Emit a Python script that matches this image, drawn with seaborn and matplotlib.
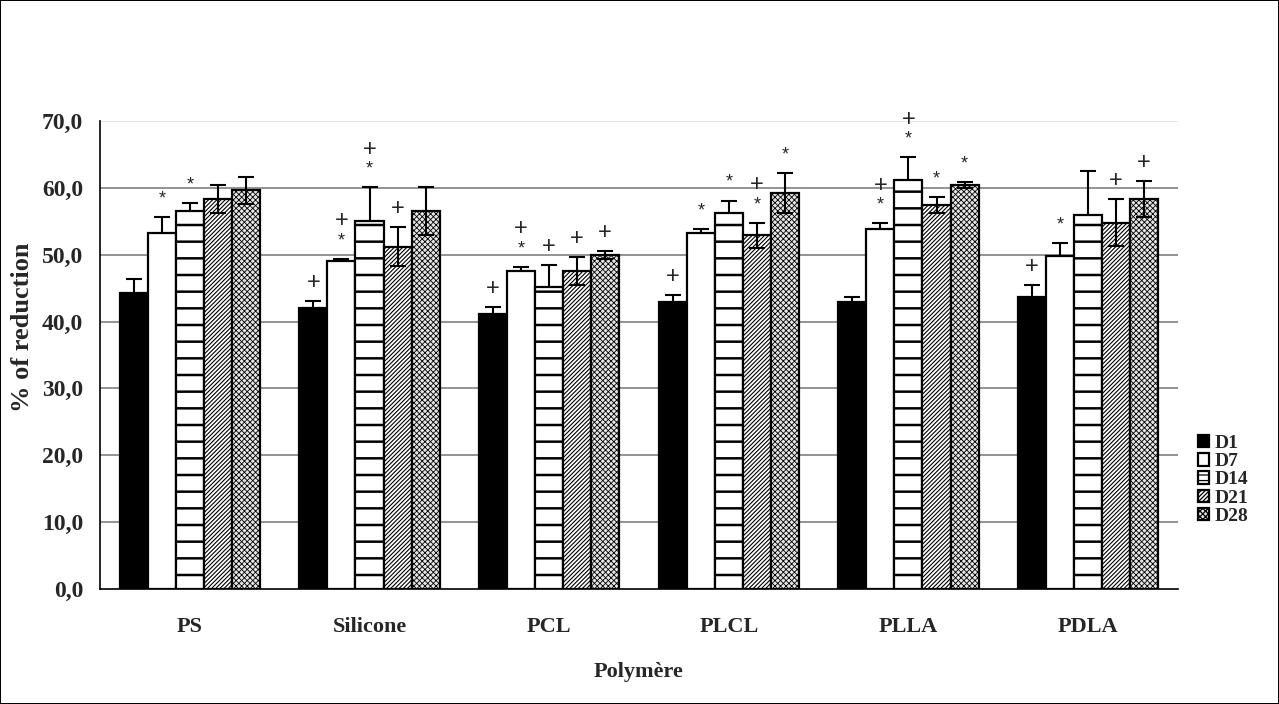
import numpy as np
import pandas as pd
import matplotlib
matplotlib.use("Agg")
import matplotlib.pyplot as plt
import seaborn as sns
from matplotlib.ticker import FuncFormatter

polymers = ["PS", "Silicone", "PCL", "PLCL", "PLLA", "PDLA"]
days = ["D1", "D7", "D14", "D21", "D28"]

d1 = [44.3, 42.0, 41.1, 42.9, 42.9, 43.7]
d7 = [53.3, 49.1, 47.6, 53.3, 53.9, 49.8]
d14 = [56.6, 55.1, 45.2, 56.3, 61.1, 55.9]
d21 = [58.3, 51.2, 47.6, 52.9, 57.4, 54.8]
d28 = [59.6, 56.5, 49.9, 59.2, 60.4, 58.3]

err_d1 = [2.0, 1.1, 1.1, 1.1, 0.7, 1.8]
err_d7 = [2.4, 0.3, 0.6, 0.5, 0.8, 1.9]
err_d14 = [1.1, 5.0, 3.3, 1.8, 3.5, 6.6]
err_d21 = [2.1, 2.9, 2.1, 1.9, 1.2, 3.5]
err_d28 = [2.0, 3.6, 0.6, 3.0, 0.5, 2.7]

# significance marks, bottom to top
marks_d1 = ["", "+", "+", "+", "", "+"]
marks_d7 = ["*", "*+", "*+", "*", "*+", "*"]
marks_d14 = ["*", "*+", "+", "*", "*+", ""]
marks_d21 = ["", "+", "+", "*+", "*", "+"]
marks_d28 = ["", "", "+", "*", "*", "+"]

values = [d1, d7, d14, d21, d28]
errors = [err_d1, err_d7, err_d14, err_d21, err_d28]
marks = [marks_d1, marks_d7, marks_d14, marks_d21, marks_d28]

df = pd.DataFrame({
    "Polymère": polymers * len(days),
    "day": np.repeat(days, len(polymers)),
    "value": np.concatenate(values),
})

sns.set_style("white")
plt.rcParams["font.family"] = ["Liberation Serif", "DejaVu Serif"]
plt.rcParams["font.weight"] = "bold"
plt.rcParams["hatch.linewidth"] = 0.9

fig = plt.figure(figsize=(12.79, 7.04), dpi=100, linewidth=1.2, edgecolor="black")
ax = fig.add_axes([0.0782, 0.1634, 0.8428, 0.6648])

palette = ["black", "white", "white", "white", "#e6e6e6"]
hatches = ["", "", "-", "////////", "xxxxxx"]
hatch_lw = [1.0, 1.0, 1.8, 0.8, 0.6]

sns.barplot(data=df, x="Polymère", y="value", hue="day", order=polymers,
            hue_order=days, palette=palette, saturation=1, width=0.78,
            edgecolor="black", linewidth=1.6, errorbar=None, ax=ax, zorder=3)

bar_conts = list(ax.containers)
for i, cont in enumerate(bar_conts):
    for j, bar in enumerate(cont.patches):
        bar.set_hatch(hatches[i])
        if hasattr(bar, "set_hatch_linewidth"):
            bar.set_hatch_linewidth(hatch_lw[i])
        x = bar.get_x() + bar.get_width() / 2
        h = bar.get_height()
        e = errors[i][j]
        z = 2 if i < 3 else 4
        ax.errorbar(x, h, yerr=e, fmt="none", ecolor="black", elinewidth=1.5,
                    capsize=5.5, capthick=1.5, zorder=z)
        off = 13
        for ch in marks[i][j]:
            ax.annotate(ch, xy=(x, h + e), xytext=(0, off), textcoords="offset points",
                        ha="center", va="center",
                        fontsize=17 if ch == "+" else 13,
                        fontweight="normal", family="Liberation Sans", zorder=5)
            off += 14

ax.set_ylim(0, 70)
ax.set_xlim(-0.5, 5.5)
ax.set_yticks(np.arange(0, 71, 10))
ax.yaxis.set_major_formatter(FuncFormatter(lambda v, p: f"{v:.1f}".replace(".", ",")))
ax.set_xticks(range(len(polymers)))
ax.set_xticks(np.arange(-0.5, 6, 1), minor=True)
ax.tick_params(axis="x", which="major", length=0, labelsize=16, pad=20)
ax.tick_params(axis="x", which="minor", length=5.5, width=1, color="black", direction="out")
ax.tick_params(axis="y", length=6, width=1, color="black", direction="out", labelsize=17, pad=6)

for yv in range(10, 71, 10):
    ax.axhline(yv, color="#e4e4e4" if yv == 70 else "#808080", linewidth=1.2, zorder=1)

for s in ["top", "right"]:
    ax.spines[s].set_visible(False)
for s in ["left", "bottom"]:
    ax.spines[s].set_color("black")
    ax.spines[s].set_linewidth(1.2)

ax.set_xlabel("Polymère", fontsize=16, fontweight="bold", labelpad=18)
ax.set_ylabel("% of reduction", fontsize=19, fontweight="bold")
ax.yaxis.set_label_coords(-0.061, 0.56)

handles, labels = ax.get_legend_handles_labels()
legend_hatches = ["", "", "---", "////////", "xxxxxx"]
for hnd, ht in zip(handles, legend_hatches):
    hnd.set_hatch(ht)
ax.legend(handles, labels, loc="center left", bbox_to_anchor=(1.011, 0.233),
          borderaxespad=0, frameon=False, handlelength=0.6, handleheight=0.6,
          handletextpad=0.3, labelspacing=0.06,
          prop={"family": "Liberation Serif", "weight": "bold", "size": 14})

fig.savefig("out.png", dpi=100)
